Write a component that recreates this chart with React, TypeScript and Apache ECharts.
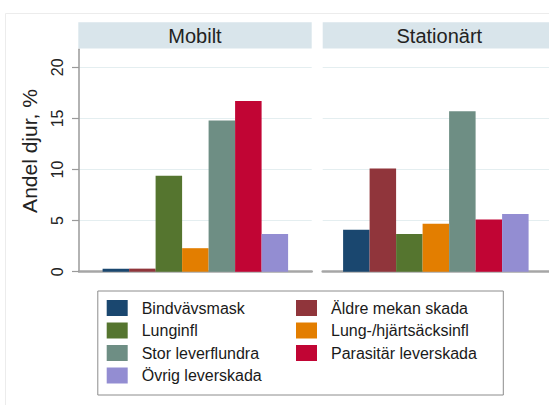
import React, { useEffect, useRef } from "react";
import * as echarts from "echarts";

const panels = ["Mobilt", "Stationärt"];
const causes = [
  "Bindvävsmask",
  "Äldre mekan skada",
  "Lunginfl",
  "Lung-/hjärtsäcksinfl",
  "Stor leverflundra",
  "Parasitär leverskada",
  "Övrig leverskada",
];
const mobilt = [0.3, 0.3, 9.4, 2.3, 14.8, 16.7, 3.7];
const stationart = [4.1, 10.1, 3.7, 4.7, 15.7, 5.1, 5.65];
const colors = ["#1a476f", "#90353b", "#55752f", "#e37e00", "#6e8e84", "#c10534", "#938dd2"];
const yTicks = [0, 5, 10, 15, 20];
const yTitle = "Andel djur, %";

const FONT = "'Liberation Sans', Arial, Helvetica, sans-serif";
const YMAX = 21.76;

export default function App() {
  const ref = useRef<HTMLDivElement>(null);

  useEffect(() => {
    if (!ref.current) return;
    const chart = echarts.init(ref.current, null, { renderer: "svg" });

    const grids = [
      { left: 79, top: 49.3, width: 232.7, height: 222.4 },
      { left: 322.7, top: 49.3, width: 233.3, height: 222.4 },
    ];

    const xAxes = panels.map((p, i) => ({
      gridIndex: i,
      type: "category",
      data: [p],
      axisLine: { show: true, onZero: false, lineStyle: { color: "#a6a6a6", width: 2.5 } },
      axisTick: { show: false },
      axisLabel: { show: false },
      splitLine: { show: false },
    }));

    const yAxes = panels.map((_, i) => ({
      gridIndex: i,
      type: "value",
      min: 0,
      max: YMAX,
      interval: 5,
      axisLine: { show: i === 0, lineStyle: { color: "#9a9a9a", width: 1.5 } },
      axisTick: {
        show: i === 0,
        length: 7,
        lineStyle: { color: "#9a9a9a", width: 1.2 },
        customValues: yTicks,
      },
      axisLabel: {
        show: i === 0,
        rotate: 90,
        margin: 14,
        fontSize: 16,
        color: "#222",
        fontFamily: FONT,
        customValues: yTicks,
      },
      splitLine: {
        show: true,
        showMinLine: false,
        lineStyle: { color: "#e4eef0", width: 1 },
      },
    }));

    const series: any[] = [];
    [mobilt, stationart].forEach((vals, g) => {
      causes.forEach((name, k) => {
        series.push({
          type: "bar",
          name,
          xAxisIndex: g,
          yAxisIndex: g,
          data: [vals[k]],
          barWidth: 26.5,
          barGap: "0%",
          itemStyle: { color: colors[k] },
          emphasis: { disabled: true },
        });
      });
    });

    const legendBase = {
      orient: "vertical",
      top: 300,
      padding: 0,
      itemWidth: 21,
      itemHeight: 16,
      itemGap: 6.5,
      icon: "rect",
      selectedMode: false,
      textStyle: { fontSize: 16, color: "#1a1a1a", fontFamily: FONT, padding: [0, 0, 0, 9] },
    };

    const option: any = {
      animation: false,
      backgroundColor: "#ffffff",
      color: colors,
      grid: grids,
      xAxis: xAxes,
      yAxis: yAxes,
      series,
      legend: [
        { ...legendBase, left: 106.7, data: causes.filter((_, i) => i % 2 === 0) },
        { ...legendBase, left: 296, data: causes.filter((_, i) => i % 2 === 1) },
      ],
      graphic: [
        {
          type: "rect",
          z: -10,
          shape: { x: 5.5, y: 13.5, width: 600, height: 500 },
          style: { fill: "none", stroke: "#ececec", lineWidth: 1 },
        },
        {
          type: "rect",
          shape: { x: 78.3, y: 22.3, width: 233.4, height: 26.2 },
          style: { fill: "#d9e5eb" },
        },
        {
          type: "rect",
          shape: { x: 322.7, y: 22.3, width: 240, height: 26.2 },
          style: { fill: "#d9e5eb" },
        },
        {
          type: "text",
          x: 195,
          y: 35.6,
          style: {
            text: panels[0],
            fontSize: 20,
            fontFamily: FONT,
            fill: "#222",
            align: "center",
            verticalAlign: "middle",
          },
        },
        {
          type: "text",
          x: 439.3,
          y: 35.6,
          style: {
            text: panels[1],
            fontSize: 20,
            fontFamily: FONT,
            fill: "#222",
            align: "center",
            verticalAlign: "middle",
          },
        },
        {
          type: "text",
          x: 29,
          y: 151,
          rotation: Math.PI / 2,
          style: {
            text: yTitle,
            fontSize: 21,
            fontFamily: FONT,
            fill: "#222",
            align: "center",
            verticalAlign: "middle",
          },
        },
        {
          type: "rect",
          shape: { x: 97.8, y: 291, width: 405.5, height: 104 },
          style: { fill: "none", stroke: "#8c8c8c", lineWidth: 1 },
        },
      ],
    };

    chart.setOption(option);
    return () => chart.dispose();
  }, []);

  return (
    <div
      ref={ref}
      style={{ position: "absolute", left: 0, top: 0, width: 549, height: 405 }}
    />
  );
}
